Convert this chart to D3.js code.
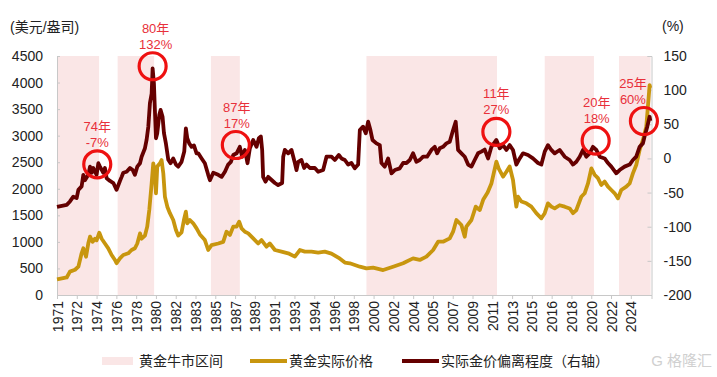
<!DOCTYPE html>
<html>
<head>
<meta charset="utf-8">
<script src="https://cdn.jsdelivr.net/npm/d3@7"></script>
<style>
  body { margin: 0; background: #fff; }
  text { font-family: "Liberation Sans", Arial, "Noto Sans CJK SC", sans-serif; }
</style>
</head>
<body>
<div id="chart"></div>
<script>
// real gold price, USD/oz (left axis): [year, value]
const goldReal = [
  [1971.00, 295], [1971.90, 330], [1972.20, 440], [1972.67, 475], [1972.98, 533], [1973.28, 785],
  [1973.44, 880], [1973.69, 720], [1973.90, 973], [1974.06, 1098], [1974.30, 1000], [1974.52, 1060],
  [1974.67, 1030], [1974.92, 1173], [1975.14, 1060], [1975.44, 970], [1975.75, 879], [1976.06, 753],
  [1976.37, 660], [1976.52, 597], [1976.83, 690], [1977.14, 753], [1977.60, 785], [1977.91, 847],
  [1978.22, 880], [1978.44, 970], [1978.69, 1160], [1978.84, 1060], [1979.15, 1120], [1979.36, 1287],
  [1979.55, 1600], [1979.77, 2100], [1979.92, 2480], [1980.07, 2290], [1980.17, 1915], [1980.29, 2420],
  [1980.54, 2480], [1980.69, 2540], [1980.85, 2290], [1981.00, 1850], [1981.22, 1663], [1981.46, 1540],
  [1981.77, 1412], [1982.02, 1224], [1982.23, 1120], [1982.54, 1180], [1982.76, 1412], [1982.94, 1570],
  [1983.07, 1350], [1983.31, 1412], [1983.62, 1350], [1983.93, 1255], [1984.24, 1140], [1984.70, 1035],
  [1985.01, 847], [1985.32, 940], [1985.94, 970], [1986.40, 1000], [1986.71, 1192], [1987.02, 1130],
  [1987.33, 1287], [1987.64, 1287], [1987.88, 1380], [1988.10, 1255], [1988.41, 1190], [1988.72, 1160],
  [1989.18, 1067], [1989.64, 970], [1989.95, 1035], [1990.41, 910], [1990.72, 970], [1991.19, 847],
  [1991.80, 816], [1992.42, 785], [1993.04, 722], [1993.50, 847], [1993.96, 816], [1994.58, 816],
  [1995.20, 800], [1995.81, 816], [1996.43, 780], [1997.10, 700], [1997.67, 610], [1998.13, 597],
  [1999.06, 533], [1999.67, 500], [2000.29, 515], [2001.22, 470], [2002.14, 533], [2003.07, 597],
  [2003.99, 690], [2004.61, 660], [2005.23, 722], [2005.85, 847], [2006.31, 1004], [2006.77, 1004],
  [2007.39, 1067], [2007.70, 1192], [2008.01, 1412], [2008.47, 1318], [2008.78, 1098], [2008.93, 1287],
  [2009.40, 1412], [2009.80, 1663], [2010.17, 1600], [2010.50, 1800], [2010.90, 1930], [2011.25, 2100],
  [2011.71, 2510], [2011.93, 2380], [2012.33, 2228], [2012.64, 2320], [2012.94, 2420], [2013.25, 2165],
  [2013.56, 1663], [2013.72, 1850], [2014.03, 1760], [2014.49, 1726], [2014.95, 1663], [2015.41, 1540],
  [2015.88, 1444], [2016.19, 1540], [2016.49, 1726], [2016.80, 1663], [2017.11, 1630], [2017.57, 1690],
  [2018.04, 1663], [2018.50, 1630], [2018.81, 1540], [2019.12, 1600], [2019.58, 1850], [2019.89, 1915],
  [2020.20, 2100], [2020.51, 2385], [2020.81, 2265], [2021.12, 2200], [2021.43, 2071], [2021.74, 2135],
  [2022.05, 2040], [2022.36, 1977], [2022.67, 1915], [2022.98, 1820], [2023.28, 1977], [2023.75, 2040],
  [2024.06, 2100], [2024.36, 2290], [2024.67, 2448], [2024.98, 2730], [2025.29, 2920], [2025.60, 3170],
  [2025.75, 3545], [2025.91, 3950], [2025.97, 3900]
];

// deviation of real gold price, % (right axis): [year, value]
const goldDev = [
  [1971.00, -71], [1971.90, -68], [1972.20, -63], [1972.51, -56], [1972.82, -58], [1972.98, -46],
  [1973.28, -41], [1973.44, -24], [1973.59, -32], [1973.90, -24], [1974.06, -12], [1974.21, -21],
  [1974.36, -14], [1974.67, -24], [1974.83, -7], [1974.98, -12], [1975.29, -21], [1975.44, -14],
  [1975.60, -29], [1975.91, -33], [1976.22, -36], [1976.52, -46], [1976.83, -33], [1976.99, -27],
  [1977.14, -21], [1977.45, -19.5], [1977.76, -14], [1978.01, -17], [1978.22, -24], [1978.44, -12],
  [1978.69, -7], [1978.84, 2.5], [1979.15, 15], [1979.30, 27], [1979.46, 46.5], [1979.61, 81],
  [1979.77, 95], [1979.86, 132], [1979.98, 110], [1980.07, 71], [1980.17, 29.5], [1980.29, 37],
  [1980.48, 64], [1980.60, 71], [1980.78, 61], [1980.91, 37], [1981.09, 22], [1981.31, -2],
  [1981.52, -7], [1981.77, 0], [1982.02, -9], [1982.23, -12], [1982.54, -5], [1982.79, 10],
  [1982.94, 44], [1983.07, 29.5], [1983.25, 22], [1983.47, 17], [1983.69, 19], [1983.93, 7.5],
  [1984.09, 7.5], [1984.40, 0], [1984.70, -7], [1985.01, -24], [1985.17, -32], [1985.48, -21],
  [1985.94, -24], [1986.25, -27], [1986.56, -19.5], [1986.86, -9], [1987.11, -5], [1987.33, 5],
  [1987.64, 7.5], [1987.94, 17], [1988.16, 2.5], [1988.41, 12.4], [1988.65, -7], [1988.87, 14.8],
  [1989.18, 27], [1989.49, 17], [1989.70, 29.5], [1989.89, 32], [1990.01, 12.4], [1990.10, -27],
  [1990.32, -34], [1990.57, -27], [1990.88, -31.6], [1991.19, -36], [1991.49, -39], [1991.86, -36],
  [1991.96, 2.5], [1992.11, 12.4], [1992.42, 7.5], [1992.73, 12.4], [1993.04, -6.7], [1993.19, -17],
  [1993.35, -5], [1993.65, -2.3], [1993.90, -14], [1994.12, -9], [1994.43, -14], [1994.89, -14],
  [1995.20, -19.5], [1995.66, -17], [1995.97, 2.5], [1996.43, 2.5], [1996.74, -2.3], [1997.11, 5],
  [1997.36, 0], [1997.67, -2.3], [1997.98, -9], [1998.28, -6.7], [1998.59, -14.5], [1998.90, -9],
  [1999.06, 41.6], [1999.36, 46.5], [1999.61, 36.8], [1999.83, 53.8], [2000.04, 41.6], [2000.23, 27],
  [2000.60, 22], [2000.91, 19.5], [2001.06, -6.7], [2001.37, -12], [2001.68, 0], [2001.99, -21.8],
  [2002.30, -17], [2002.76, -14.5], [2003.07, -6.7], [2003.38, -6.7], [2003.69, -2.3], [2003.99, 7.5],
  [2004.30, -4.8], [2004.61, -2.3], [2004.92, 2.5], [2005.29, 2.5], [2005.69, 12.4], [2006.00, 17],
  [2006.22, 7.5], [2006.46, 14.8], [2006.77, 17], [2007.08, 22], [2007.39, 24.4], [2007.70, 41.6],
  [2007.94, 53.8], [2008.16, 12.4], [2008.47, 7.5], [2008.78, 2.5], [2009.09, -9], [2009.40, -12],
  [2009.70, -2.3], [2010.01, 7.5], [2010.32, 10], [2010.63, 13], [2010.94, 0], [2011.25, 17],
  [2011.71, 27], [2012.02, 14.8], [2012.33, 19.5], [2012.64, 12.4], [2012.94, 19.5], [2013.25, 12.4],
  [2013.56, -9], [2013.87, 0], [2014.18, 7.5], [2014.64, 5], [2015.10, 0], [2015.57, -6.7],
  [2015.88, -9], [2016.19, 10], [2016.49, 19.5], [2016.80, 12.4], [2017.11, 7.5], [2017.57, 12.4],
  [2018.04, 2.5], [2018.50, -2.3], [2018.81, -9], [2019.12, -4.8], [2019.43, 2.5], [2019.73, 12.4],
  [2020.04, 2.5], [2020.35, 7.5], [2020.66, 17], [2020.97, 12.4], [2021.28, 2.5], [2021.74, 0],
  [2022.05, -6.7], [2022.36, -12], [2022.82, -21.8], [2023.13, -17], [2023.59, -12], [2024.06, -9],
  [2024.36, -2.3], [2024.67, 2.5], [2024.98, 17], [2025.29, 22], [2025.44, 32], [2025.69, 46.5],
  [2025.91, 61], [2025.97, 55]
];

// gold bull market periods
const bullStart = [1971.0, 1976.62, 1985.26, 1999.67, 2016.19, 2023.07];
const bullEnd   = [1974.90, 1980.00, 1987.94, 2011.77, 2020.75, 2026.0];

// annotated peaks (year, deviation %)
const noteYears  = [1974.73, 1979.86, 1987.57, 2011.71, 2020.91, 2025.38];
const noteDevs   = [-8.6, 135, 19.7, 39, 26, 54.8];
const noteTop    = ["74年", "80年", "87年", "11年", "20年", "25年"];
const noteBottom = ["-7%", "132%", "17%", "27%", "18%", "60%"];

const leftTicks  = [0, 500, 1000, 1500, 2000, 2500, 3000, 3500, 4000, 4500];
const rightTicks = [-200, -150, -100, -50, 0, 50, 100, 150];
const monthsTotal = 661;   // x axis length in months from 1971-01
const tickStep = 22;       // one year label every 22 months
const lastTick = 638;      // 2024

const width = 717, height = 377;
const margin = { top: 56, right: 65.5, bottom: 82, left: 57 };

const svg = d3.select("#chart").append("svg")
  .attr("width", width).attr("height", height)
  .attr("viewBox", [0, 0, width, height]);

const x = d3.scaleLinear()
  .domain([0, monthsTotal])
  .range([margin.left, width - margin.right]);
const yL = d3.scaleLinear().domain([0, 4500]).range([height - margin.bottom, margin.top]);
const yR = d3.scaleLinear().domain([-200, 150]).range([height - margin.bottom, margin.top]);
const m = yr => (yr - 1971) * 12;

// bull market bands
svg.append("g").selectAll("rect")
  .data(d3.range(bullStart.length))
  .join("rect")
  .attr("x", i => x(m(bullStart[i])))
  .attr("width", i => Math.min(x(m(bullEnd[i])), width - margin.right) - x(m(bullStart[i])))
  .attr("y", margin.top)
  .attr("height", height - margin.bottom - margin.top)
  .attr("fill", "#fae6e6");

// axes
const axisColor = "#c8c8c8";
const xTicks = d3.range(0, lastTick + 1, tickStep);
const gx = svg.append("g")
  .attr("transform", `translate(0,${height - margin.bottom})`)
  .call(d3.axisBottom(x).tickValues(xTicks).tickSize(4).tickFormat(d => 1971 + Math.floor(d / 12)));
gx.selectAll("text")
  .attr("transform", "rotate(-90)")
  .attr("text-anchor", "end")
  .attr("x", -6).attr("y", 0).attr("dy", "0.36em")
  .attr("font-size", 14).attr("fill", "#222");

const gl = svg.append("g")
  .attr("transform", `translate(${margin.left},0)`)
  .call(d3.axisRight(yL).tickValues(leftTicks).tickSize(3).tickFormat(d3.format("d")));
gl.selectAll("text")
  .attr("text-anchor", "end").attr("x", -14)
  .attr("font-size", 14).attr("fill", "#222");

const gr = svg.append("g")
  .attr("transform", `translate(${width - margin.right},0)`)
  .call(d3.axisLeft(yR).tickValues(rightTicks).tickSize(4).tickFormat(d => d));
gr.selectAll("text")
  .attr("text-anchor", "start").attr("x", 12)
  .attr("font-size", 14).attr("fill", "#222");

[gx, gl, gr].forEach(g => {
  g.select(".domain").attr("stroke", axisColor);
  g.selectAll(".tick line").attr("stroke", axisColor);
});

// lines
const goldLine = d3.line().x(d => x(m(d[0]))).y(d => yL(d[1]));
const devLine = d3.line().x(d => x(m(d[0]))).y(d => yR(d[1]));

svg.append("path")
  .datum(goldReal)
  .attr("fill", "none")
  .attr("stroke", "#c8960e")
  .attr("stroke-width", 3.8)
  .attr("stroke-linejoin", "round")
  .attr("d", goldLine);

svg.append("path")
  .datum(goldDev)
  .attr("fill", "none")
  .attr("stroke", "#650000")
  .attr("stroke-width", 3.8)
  .attr("stroke-linejoin", "round")
  .attr("d", devLine);

// annotations
const noteDx = [0, 3, 1, 0, 1, -11];
const notes = svg.append("g").selectAll("g")
  .data(d3.range(noteYears.length))
  .join("g")
  .attr("transform", i => `translate(${x(m(noteYears[i]))},${yR(noteDevs[i])})`);
notes.append("circle")
  .attr("r", 13.5)
  .attr("fill", "none")
  .attr("stroke", "#ee1111")
  .attr("stroke-width", 3.2);
notes.append("text")
  .attr("x", i => noteDx[i]).attr("y", -38).attr("dy", "0.35em")
  .attr("text-anchor", "middle").attr("font-size", 13).attr("fill", "#e8303a")
  .text(i => noteTop[i]);
notes.append("text")
  .attr("x", i => noteDx[i]).attr("y", -22).attr("dy", "0.35em")
  .attr("text-anchor", "middle").attr("font-size", 13).attr("fill", "#e8303a")
  .text(i => noteBottom[i]);

// units
svg.append("text").attr("x", 10).attr("y", 27).attr("dy", "0.35em")
  .attr("font-size", 14).attr("fill", "#222").text("(美元/盎司)");
svg.append("text").attr("x", 662).attr("y", 26).attr("dy", "0.35em")
  .attr("font-size", 14).attr("fill", "#222").text("(%)");

// legend
const legY = 361;
const legend = svg.append("g").attr("font-size", 14).attr("fill", "#222");
legend.append("rect").attr("x", 102).attr("y", legY - 4).attr("width", 31).attr("height", 8).attr("fill", "#fae6e6");
legend.append("text").attr("x", 139).attr("y", legY).attr("dy", "0.35em").text("黄金牛市区间");
legend.append("line").attr("x1", 250).attr("x2", 287).attr("y1", legY).attr("y2", legY)
  .attr("stroke", "#c8960e").attr("stroke-width", 3.8);
legend.append("text").attr("x", 289).attr("y", legY).attr("dy", "0.35em").text("黄金实际价格");
legend.append("line").attr("x1", 402).attr("x2", 439).attr("y1", legY).attr("y2", legY)
  .attr("stroke", "#650000").attr("stroke-width", 3.8);
legend.append("text").attr("x", 441).attr("y", legY).attr("dy", "0.35em").text("实际金价偏离程度（右轴）");

// watermark
svg.append("text").attr("x", 712).attr("y", legY).attr("dy", "0.35em")
  .attr("text-anchor", "end").attr("font-size", 15).attr("fill", "#d0d0d0")
  .text("G 格隆汇");
</script>
</body>
</html>
